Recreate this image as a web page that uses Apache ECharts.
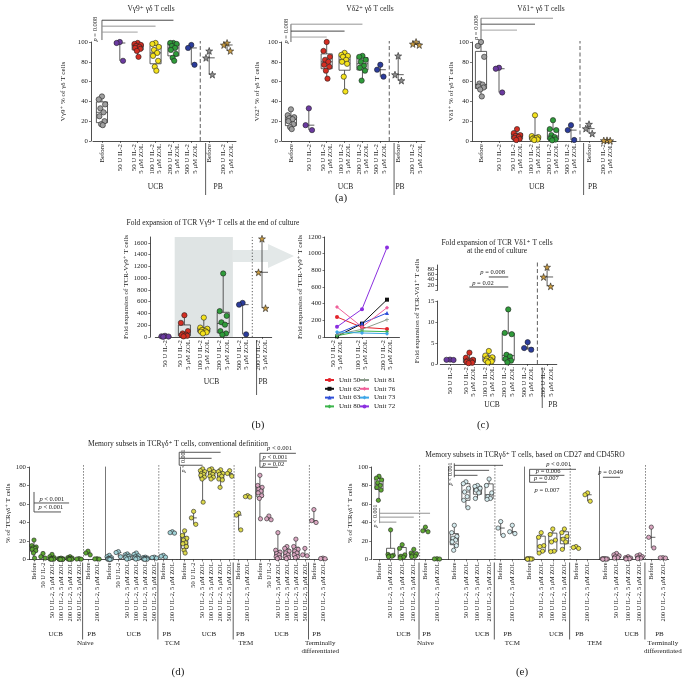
<!DOCTYPE html>
<html><head><meta charset="utf-8"><title>chart</title>
<script src="https://cdn.jsdelivr.net/npm/echarts@6/dist/echarts.min.js"></script>
<style>html,body{margin:0;padding:0;background:#fff;}#chart{width:683px;height:690px;}</style>
</head><body><div id="chart"></div>
<script>
// ================= DATA =================
// Panel (a)
const catsA = ['Before','50 U IL-2','50 U IL-2\n5 μM ZOL','100 U IL-2\n5 μM ZOL','200 U IL-2\n5 μM ZOL','500 U IL-2\n5 μM ZOL','Before','200 U IL-2\n5 μM ZOL'];
const vg9Pct = [[45,42,37,33,29,25,20,17,16],[100,99,81],[99,98,97,96,95,94,93,91,85],[99,98,95,92,89,86,81,75,71],[99,99,98,96,94,92,88,84,81],[97,94,77],[91,84,67],[99,97,91]];
const vd2Pct = [[32,26,24,23,22,20,17,14,12],[33,16,11],[100,91,85,82,80,77,75,71,63],[89,87,86,85,82,80,78,65,50],[86,85,82,80,76,74,71,61],[77,72,65],[86,67,61],[100,98,97]];
const vd1Pct = [[100,96,85,58,57,55,54,52,45],[74,73,49],[12,8,6,5,4,3,2,1],[26,5,4,3,3,2,1.5,1],[21,12,11,6,4,2.5,1.5,0.7],[16,11,1],[17,12.5,7.5],[0.7,0.5,0.3]];
// Panel (b)
const catsB = ['50 U IL-2','50 U IL-2\n5 μM ZOL','100 U IL-2\n5 μM ZOL','200 U IL-2\n5 μM ZOL','500 U IL-2\n5 μM ZOL','200 U IL-2\n5 μM ZOL'];
const vg9Fold = [[20,12,8,4],[370,240,100,60,40,30,20,10],[330,160,140,120,100,90,80,60],[1080,440,360,250,210,100,60,40],[580,550,45],[1670,1100,490]];
const unitCats = ['50 U IL-2\n5 μM ZOL','100 U IL-2\n5 μM ZOL','200 U IL-2\n5 μM ZOL'];
const unit50 = [240,116,96];
const unit62 = [8,160,448];
const unit63 = [40,165,288];
const unit80 = [16,72,64];
const unit81 = [32,92,208];
const unit76 = [360,120,352];
const unit73 = [60,48,40];
const unit72 = [122,334,1074];
// Panel (c)
const vd1Fold = [[1.05,1,0.95],[2.7,1.5,1,0.8,0.6,0.5,0.3,0.2],[3.1,2,1.6,1.3,1,0.8,0.6,0.4],[13,7.4,7.1,2.2,1.8,1.2,0.8,0.4],[5.2,3.8,3.4],[87,50,15]];
// Panel (d)
const catsD = ['Before','50 U IL-2','50 U IL-2, 5 μM ZOL','100 U IL-2, 5 μM ZOL','200 U IL-2, 5 μM ZOL','500 U IL-2, 5 μM ZOL','Before','200 U IL-2, 5 μM ZOL'];
const naiveConv = [[21,15,13.5,12.5,12,11,9.5,7,1.5],[6.5,3,1.5],[5.5,3,2,1,0.7,0.4,0.3,0.2],[1.5,1,0.7,0.5,0.3,0.2,0.1,0.1],[3,2,1.5,1,0.5,0.4,0.3,0.2],[1,0.5,0.3],[9,7,5],[0.8,0.6,0.4]];
const tcmConv = [[4.5,3,2,1,0.7,0.5,0.3,0.2,0.1],[8.5,7.5,3],[6,5,4,3.5,3,2,1,0.5],[7,5.5,4,3,2,1.5,1,0.5],[2.5,2,1.5,1,0.7,0.5,0.3,0.2],[2.5,2,1.5],[4.5,3.5,2.5],[30,29,28.5]];
const temConv = [[31,26,23,21,18,17,14,10,7],[52,45,38],[98,96,95,93,92,91,89,87,62],[98,97,95,93,92,90,89,87],[97,95,93,92,90,87,86,78],[96,93,90],[50,48,32],[69,68,67.5]];
const tdConv = [[91,80,78,76,74,72,69,66,44],[47,44,43],[29,10,8,6.5,5,3,2,1],[14,12,9,7,5,3,2,1],[22,14,11,9,7,5,3,2],[12,5,4],[54,42,40],[1.5,1,0.8]];
// Panel (e)
const catsE = ['Before','50 U IL-2, 5 μM ZOL','100 U IL-2, 5 μM ZOL','200 U IL-2, 5 μM ZOL','Before','200 U IL-2, 5 μM ZOL'];
const naiveCd = [[90,88,86,83,80,78,75,64],[32,5.5,4.5,4,3.5,3],[16,12,5,3.5,2.5,1.5],[11,7,6,5,3.5,3],[35,31,30],[0.8,0.6,0.5]];
const tcmCd = [[37,29,25,23,21,19,15,10],[84,82,77,73,68,64,56],[80,79,77,75,72,66],[87,80,72,68,66,65],[41,34,26],[37,30,28]];
const temCd = [[1,0.8,0.6,0.5,0.4,0.3],[29,24,15,14,9,7],[33,27,21,19,9,8.5],[33,29,25,22,19,11],[14,13,12],[72,70,63]];
const tdCd = [[1,0.8,0.6,0.5,0.4,0.3],[6.5,5,4,3,2,1.5],[3,2,1.5,1,0.8,0.5],[5,4,3,2,1.5,1],[35,24,12.5],[2,1.8,1.5]];

// ================= STYLE =================
const FONT = '"Liberation Serif","DejaVu Serif",serif';
const STAR = 'path://M0,-10L2.35,-3.24L9.51,-3.09L3.8,1.24L5.88,8.09L0,4L-5.88,8.09L-3.8,1.24L-9.51,-3.09L-2.35,-3.24Z';
const PLUS = 'path://M-1,-5L1,-5L1,-1L5,-1L5,1L1,1L1,5L-1,5L-1,1L-5,1L-5,-1L-1,-1Z';
const JIT = [0,-1,1,-0.5,0.5,-0.8,0.8,-0.25,0.25,-0.6,0.6];
const colA = ['#a0a0a0','#6b3aa0','#d42e22','#f4e21c','#2f9b3a','#2b3c9c','#8e8e8e','#c89a40'];
const starA = [false,false,false,false,false,false,true,true];
const colB = ['#6b3aa0','#d42e22','#f4e21c','#2f9b3a','#2b3c9c','#c89a40'];
const starB = [false,false,false,false,false,true];
const plainNum = v => String(v);

const grids=[], xAxes=[], yAxes=[], series=[];

function stats(v){
  const s=v.slice().sort((a,b)=>a-b), n=s.length;
  const med = n%2 ? s[(n-1)/2] : (s[n/2-1]+s[n/2])/2;
  if(n<=3) return [s[0],med,med,med,s[n-1]];
  const q=p=>{const h=(n+1)*p-1; const f=Math.floor(h); const lo=Math.max(0,Math.min(n-1,f)); const hi=Math.max(0,Math.min(n-1,f+1)); return s[lo]+(s[hi]-s[lo])*(h-f);};
  return [s[0],q(0.25),med,q(0.75),s[n-1]];
}
function boxRender(frac,color,lw){
  return function(params,api){
    const i=api.value(0), lo=api.value(1), q1=api.value(2), md=api.value(3), q3=api.value(4), hi=api.value(5);
    const w=api.size([1,0])[0]*frac;
    const x=api.coord([i,md])[0];
    const y=v=>api.coord([i,v])[1];
    const st={stroke:color,lineWidth:lw,fill:'none'};
    const ch=[];
    if(q3>q1){
      ch.push({type:'line',shape:{x1:x,y1:y(lo),x2:x,y2:y(q1)},style:st});
      ch.push({type:'line',shape:{x1:x,y1:y(q3),x2:x,y2:y(hi)},style:st});
      ch.push({type:'rect',shape:{x:x-w/2,y:y(q3),width:w,height:y(q1)-y(q3)},style:st});
    } else {
      ch.push({type:'line',shape:{x1:x,y1:y(lo),x2:x,y2:y(hi)},style:st});
    }
    ch.push({type:'line',shape:{x1:x-w/2,y1:y(md),x2:x+w/2,y2:y(md)},style:st});
    return {type:'group',children:ch};
  };
}
function pText(t,fs){
  if(t.indexOf('p ')===0) return {text:'{i|p}'+t.slice(1),rich:{i:{fontStyle:'italic',fontSize:fs,fontFamily:FONT,fill:'#222'}}};
  return {text:t};
}
function annotRender(a){
  return function(params,api){
    const bw=api.size([1,0])[0];
    const x0=api.coord([0,0])[0];
    const X=t=>x0+t*bw;
    const Y=v=>api.coord([0,v])[1];
    const base=Y(a.base||0);
    const ch=[];
    if(a.sep!=null) ch.push({type:'line',shape:{x1:X(a.sep),y1:base,x2:X(a.sep),y2:Y(a.sepTop)},style:{stroke:'#333',lineWidth:0.8,lineDash:a.dash}});
    if(a.below) ch.push({type:'line',shape:{x1:X(a.below[0]),y1:base+a.below[1],x2:X(a.below[0]),y2:base+a.below[2]},style:{stroke:'#333',lineWidth:0.8}});
    if(a.ext) ch.push({type:'line',shape:{x1:X(a.n-0.5),y1:base,x2:X(a.n-0.5)+a.ext,y2:base},style:{stroke:'#222',lineWidth:0.8}});
    (a.labels||[]).forEach(l=>ch.push({type:'text',x:X(l[0]),y:base+l[1],style:{text:l[2],fontSize:l[3]||7.5,fontFamily:FONT,fill:'#222',align:'center',verticalAlign:'middle'}}));
    (a.lines||[]).forEach(L=>ch.push({type:'line',shape:{x1:X(L[0]),y1:Y(L[1]),x2:X(L[2]),y2:Y(L[3])},style:{stroke:L[4]||'#555',lineWidth:0.9}}));
    (a.texts||[]).forEach(t=>{const fs=t.fs||6.5; ch.push({type:'text',x:X(t.x),y:Y(t.y),rotation:t.rot?Math.PI/2:0,style:Object.assign({fontSize:fs,fontFamily:FONT,fill:'#222',align:t.align||'center',verticalAlign:'middle'},pText(t.t,fs))});});
    return {type:'group',children:ch};
  };
}
function shadeRender(s){
  return function(params,api){
    const bw=api.size([1,0])[0], x0=api.coord([0,0])[0], X=t=>x0+t*bw;
    const yt=api.coord([0,s[3]])[1], yb=api.coord([0,s[2]])[1];
    return {type:'rect',shape:{x:X(s[0]),y:yt,width:X(s[1])-X(s[0]),height:yb-yt},style:{fill:'#dfe4e4'}};
  };
}
function boxGrid(o){
  const gi=grids.push(Object.assign({containLabel:false},o.grid))-1;
  const xi=xAxes.push({type:'category',gridIndex:gi,data:o.cats,boundaryGap:true,show:o.xShow!==false,
    axisLine:{show:true,lineStyle:{color:'#222',width:0.8}},
    axisTick:{show:true,alignWithLabel:true,length:2,lineStyle:{color:'#222',width:0.6}},
    axisLabel:{show:true,rotate:90,interval:0,fontSize:o.xfs,fontFamily:FONT,color:'#222',margin:3,lineHeight:o.xfs+0.6},
    splitLine:{show:false}})-1;
  const y=o.y;
  const ya={type:'value',gridIndex:gi,min:y.min,max:y.max,interval:y.interval,offset:y.offset||0,
    name:y.name||'',nameLocation:'middle',nameGap:y.gap||20,nameTextStyle:{fontSize:7,fontFamily:FONT,color:'#222'},
    axisLine:{show:true,lineStyle:{color:y.color||'#222',width:y.lw||0.8}},
    axisTick:{show:y.labels!==false,length:2,lineStyle:{color:'#222',width:0.6}},
    axisLabel:{show:y.labels!==false,fontSize:y.fs||6.8,fontFamily:FONT,color:'#222',margin:3,showMaxLabel:y.showMax!==false,formatter:y.fmt||plainNum},
    splitLine:{show:false}};
  const yi=yAxes.push(ya)-1;
  const boxData=[], pts=[];
  o.values.forEach((v,i)=>{
    if(!v.length) return;
    boxData.push([i].concat(stats(v)));
    const star=o.stars&&o.stars[i];
    const col=Array.isArray(o.colors)?o.colors[i]:o.colors;
    v.forEach((val,k)=>pts.push({value:[i,val],symbol:star?STAR:'circle',symbolSize:star?o.pt*1.3:o.pt,symbolOffset:[JIT[k%JIT.length]*o.jit,0],itemStyle:{color:col}}));
  });
  if(o.shade) series.push({type:'custom',xAxisIndex:xi,yAxisIndex:yi,clip:false,silent:true,z:1,data:[[0,0]],encode:{x:0,y:1},renderItem:shadeRender(o.shade)});
  series.push({type:'custom',xAxisIndex:xi,yAxisIndex:yi,clip:false,silent:true,z:3,data:boxData,encode:{x:0,y:3},renderItem:boxRender(o.frac,o.boxColor||'#333',0.8)});
  series.push({type:'scatter',xAxisIndex:xi,yAxisIndex:yi,silent:true,z:4,data:pts,itemStyle:{borderColor:'#222',borderWidth:0.6,opacity:1}});
  if(o.annot) series.push({type:'custom',xAxisIndex:xi,yAxisIndex:yi,clip:false,silent:true,z:5,data:[[0,0]],encode:{x:0,y:1},renderItem:annotRender(o.annot)});
}

// ---------- (a) ----------
boxGrid({grid:{left:93,top:42,width:143,height:99},cats:catsA,values:vg9Pct,colors:colA,stars:starA,xfs:6.8,pt:5.3,jit:3.2,frac:0.62,
  y:{min:0,max:100,interval:20,offset:2,name:'Vγ9⁺ % of γδ T cells',gap:24},
  annot:{sep:5.5,sepTop:101,dash:[4,2.5],below:[5.8,2,54],labels:[[3.0,46,'UCB'],[6.5,46,'PB']],
    lines:[[0,102,0,122,'#555'],[0,122,4,122,'#333'],[0,116,3,116,'#888'],[0,110,2,110,'#999']],
    texts:[{x:-0.35,y:113,t:'p = 0.008',rot:true}]}});
boxGrid({grid:{left:282,top:42,width:143,height:99},cats:catsA,values:vd2Pct,colors:colA,stars:starA,xfs:6.8,pt:5.3,jit:3.2,frac:0.62,
  y:{min:0,max:100,interval:20,offset:1,name:'Vδ2⁺ % of γδ T cells',gap:20},
  annot:{sep:5.5,sepTop:101,dash:[4,2.5],below:[5.77,2,54],labels:[[3.05,46,'UCB'],[6.1,46,'PB']],
    lines:[[0,100,0,118,'#555'],[0,118,4,118,'#888'],[0,111,3,111,'#333'],[0,105,2,105,'#999']],
    texts:[{x:-0.25,y:111,t:'p = 0.008',rot:true}]}});
boxGrid({grid:{left:472,top:42,width:144,height:99},cats:catsA,values:vd1Pct,colors:colA,stars:starA,xfs:6.8,pt:5.3,jit:3.2,frac:0.62,
  y:{min:0,max:100,interval:20,offset:0,name:'Vδ1⁺ % of γδ T cells',gap:17},
  annot:{sep:5.5,sepTop:101,dash:[4,2.5],below:[5.7,2,54],labels:[[3.1,46,'UCB'],[6.2,46,'PB']],
    lines:[[0,102,0,124,'#555'],[0,124,4,124,'#888'],[0,118,3,118,'#444'],[0,112,2,112,'#999']],
    texts:[{x:-0.25,y:114.5,t:'p = 0.008',rot:true}]}});

// ---------- (b) ----------
boxGrid({grid:{left:155.3,top:237,width:116.4,height:100},cats:catsB,values:vg9Fold,colors:colB,stars:starB,xfs:6.8,pt:5.3,jit:3.5,frac:0.62,
  y:{min:0,max:1700,interval:200,offset:5,name:'Fold expansion of TCR-Vγ9⁺ T cells',gap:19,showMax:false},
  shade:[0.5,3.5,0,1700],
  annot:{sep:4.5,sepTop:1700,dash:[1.2,2],below:[4.72,3,58],labels:[[2.4,45,'UCB'],[5.05,45,'PB']]}});

const lgi=grids.push({left:324.5,top:237,width:75,height:100})-1;
xAxes.push({type:'category',gridIndex:lgi,data:unitCats,boundaryGap:true,
  axisLine:{show:true,lineStyle:{color:'#222',width:0.8}},
  axisTick:{show:true,alignWithLabel:true,length:2,lineStyle:{color:'#222',width:0.6}},
  axisLabel:{rotate:90,interval:0,fontSize:6.8,fontFamily:FONT,color:'#222',margin:3,lineHeight:7.4},splitLine:{show:false}});
yAxes.push({type:'value',gridIndex:lgi,min:0,max:1200,interval:200,name:'Fold expansion of TCR-Vγ9⁺ T cells',nameLocation:'middle',nameGap:20,
  nameTextStyle:{fontSize:7,fontFamily:FONT,color:'#222'},
  axisLine:{show:true,lineStyle:{color:'#222',width:0.8}},axisTick:{show:true,length:2,lineStyle:{color:'#222',width:0.6}},
  axisLabel:{fontSize:6.8,fontFamily:FONT,color:'#222',margin:3,formatter:plainNum},splitLine:{show:false}});
const units=[['Unit 50',unit50,'#e3232b','circle'],['Unit 62',unit62,'#111111','rect'],['Unit 63',unit63,'#2f4fd8','triangle'],['Unit 80',unit80,'#3cb44b','diamond'],
  ['Unit 81',unit81,'#8c9c8c',PLUS],['Unit 76',unit76,'#f0609a','diamond'],['Unit 73',unit73,'#3fa7e8','diamond'],['Unit 72',unit72,'#8b2fe0','circle']];
units.forEach(u=>series.push({type:'line',name:u[0],xAxisIndex:xAxes.length-1,yAxisIndex:yAxes.length-1,data:u[1],symbol:u[3],symbolSize:4,
  itemStyle:{color:u[2]},lineStyle:{color:u[2],width:1},z:3,silent:true}));

// ---------- (c) ----------
const lowerC=vd1Fold.map((v,i)=>i<5?v:[]);
const upperC=vd1Fold.map((v,i)=>i===5?v:[]);
boxGrid({grid:{left:440.3,top:301,width:116.5,height:63},cats:catsB,values:lowerC,colors:colB,stars:starB,xfs:6.8,pt:5.3,jit:3.5,frac:0.62,
  y:{min:0,max:15,interval:5,offset:3},
  annot:{sep:4.5,sepTop:24.3,dash:[4,2.5],below:[4.75,4,44],labels:[[2.16,41,'UCB'],[5.3,41,'PB']]}});
boxGrid({grid:{left:440.3,top:265,width:116.5,height:25.3},cats:catsB,values:upperC,colors:colB,stars:starB,xShow:false,xfs:6.8,pt:5.3,jit:3.5,frac:0.62,
  y:{min:0,max:95,interval:20,offset:3,showMax:false,fmt:v=>(v>=20&&v<=80)?String(v):''},
  annot:{lines:[[2,50,3,50,'#333'],[1,12.4,3,12.4,'#333']],texts:[{x:2.2,y:69,t:'p = 0.008'},{x:1.7,y:27,t:'p = 0.02'}]}});

// ---------- (d) ----------
const dGroups=[naiveConv,tcmConv,temConv,tdConv];
const dCols=['#5da632','#9fd1d6','#dcd84c','#d9a6c0'];
const dLefts=[29.5,104.8,180.1,255.4];
const dAnnots=[
  {sep:5.5,sepTop:102,dash:[1.2,1.8],below:[5.4,3,80],ext:3.3,n:8,labels:[[2.4,75,'UCB',7],[6.4,75,'PB',7],[5.7,84,'Naive',7]],
    lines:[[0,51.4,0,73,'#444'],[0,61.1,3.9,61.1,'#444'],[0,51.4,3,51.4,'#444']],
    texts:[{x:0.6,y:65.4,t:'p < 0.001',align:'left'},{x:0.5,y:56.8,t:'p < 0.001',align:'left'}]},
  {sep:5.5,sepTop:102,dash:[1.2,1.8],below:[5.4,3,80],ext:3.3,n:8,labels:[[2.7,75,'UCB',7],[6.4,75,'PB',7],[7,84,'TCM',7]]},
  {sep:5.5,sepTop:102,dash:[1.2,1.8],below:[5.4,3,80],ext:3.3,n:8,labels:[[2.7,75,'UCB',7],[6.2,75,'PB',7],[6.8,84,'TEM',7]],
    lines:[[-0.6,101.9,-0.6,115.9,'#444'],[-0.6,115.9,4,115.9,'#444'],[-0.6,109.4,3,109.4,'#444'],[-0.6,101.9,2,101.9,'#444']],
    texts:[{x:-0.15,y:106.5,t:'p < 0.001',rot:true,fs:6}]},
  {sep:5.5,sepTop:102,dash:[1.2,1.8],below:[5.4,3,80],labels:[[2.4,75,'UCB',7],[6.3,75,'PB',7],[6.7,84,'Terminally',7],[6.7,92,'differentiated',7]],
    lines:[[0,99.7,0,114.8,'#444'],[0,114.8,4,114.8,'#444'],[0,106.5,3,106.5,'#444'],[0,99.7,2,99.7,'#444']],
    texts:[{x:0.8,y:120,t:'p < 0.001',align:'left'},{x:0.3,y:111,t:'p < 0.001',align:'left'},{x:0.3,y:103,t:'p = 0.02',align:'left'}]}
];
dGroups.forEach((g,k)=>boxGrid({grid:{left:dLefts[k],top:467,width:72,height:92.5},cats:catsD,values:g,colors:dCols[k],xfs:6.3,pt:4.3,jit:2.2,frac:0.7,boxColor:'#3a3a3a',
  y:k===0?{min:0,max:100,interval:20,offset:0.5,name:'% of TCRγδ⁺ T cells',gap:14}:{min:0,max:100,interval:20,labels:false,color:'#777',lw:1},
  annot:dAnnots[k]}));

// ---------- (e) ----------
const eGroups=[naiveCd,tcmCd,temCd,tdCd];
const eCols=['#5da632','#d6ecef','#e6df45','#d9a6c0'];
const eLefts=[373.2,448.5,523.8,599.1];
const eAnnots=[
  {sep:3.5,sepTop:102,dash:[1.2,1.8],below:[3.45,3,80],ext:5.7,n:6,labels:[[2.1,75,'UCB',7],[4.1,75,'PB',7],[4.0,84,'Naive',7]],
    lines:[[0.05,39.3,0.05,55.5,'#888'],[0.05,50,4.4,50,'#888'],[0.05,45.8,3,45.8,'#888'],[0.05,40.4,1.5,40.4,'#888']],
    texts:[{x:-0.3,y:47,t:'p < 0.001',rot:true,fs:6}]},
  {sep:3.5,sepTop:102,dash:[1.2,1.8],below:[3.45,3,80],ext:5.7,n:6,labels:[[2.4,75,'UCB',7],[4.6,75,'PB',7],[5,84,'TCM',7]],
    lines:[[0,88.9,0,104,'#444'],[0,101.8,4.2,101.8,'#444'],[0,96.4,3,96.4,'#444'],[0,91,2,91,'#444']],
    texts:[{x:-0.35,y:92.5,t:'p < 0.001',rot:true,fs:6}]},
  {sep:3.5,sepTop:102,dash:[1.2,1.8],below:[3.45,3,80],ext:5.7,n:6,labels:[[2.3,75,'UCB',7],[4.3,75,'PB',7],[5.6,84,'TEM',7]],
    lines:[[0,83.5,0,97.5,'#444'],[0,97.5,4,97.5,'#444'],[0,91,3,91,'#444'],[0,83.5,1.5,83.5,'#444']],
    texts:[{x:2.5,y:103,t:'p < 0.001'},{x:1.6,y:95,t:'p = 0.006'},{x:1.45,y:87.5,t:'p = 0.007'},{x:1.5,y:75,t:'p = 0.007'}]},
  {sep:3.5,sepTop:102,dash:[1.2,1.8],below:[3.45,3,80],labels:[[2.3,75,'UCB',7],[4.7,75,'PB',7],[5,84,'Terminally',7],[5,92,'differentiated',7]],
    lines:[[-0.17,88.9,1.3,88.9,'#444']],texts:[{x:0.5,y:94.3,t:'p = 0.049'}]}
];
eGroups.forEach((g,k)=>boxGrid({grid:{left:eLefts[k],top:467,width:69.6,height:92.5},cats:catsE,values:g,colors:eCols[k],xfs:6.3,pt:4.3,jit:2.6,frac:0.7,boxColor:'#3a3a3a',
  y:k===0?{min:0,max:100,interval:20,offset:2,name:'% of TCRγδ⁺ T cells',gap:14}:{min:0,max:100,interval:20,labels:false,color:'#777',lw:1},
  annot:eAnnots[k]}));

// ---------- text / decoration ----------
function T(x,y,text,fs,extra){return Object.assign({type:'text',x:x,y:y,z:10,style:{text:text,fontSize:fs,fontFamily:FONT,fill:'#222',align:'center',verticalAlign:'middle',textAlign:'center',textVerticalAlign:'middle'}},extra||{});}
const graphics=[
  {type:'polygon',z:0,shape:{points:[[233,250],[268,250],[268,244],[294,256],[268,268],[268,262],[233,262]]},style:{fill:'#e3e8e8'}},
  T(151,9,'Vγ9⁺ γδ T cells',7.5), T(370,9,'Vδ2⁺ γδ T cells',7.5), T(541,9,'Vδ1⁺ γδ T cells',7.5),
  T(341,198,'(a)',11),
  T(213,223,'Fold expansion of TCR Vγ9⁺ T cells at the end of culture',7.5),
  T(497,243,'Fold expansion of TCR Vδ1⁺ T cells',7.5), T(497,251.5,'at the end of culture',7.5),
  T(417,311,'Fold expansion of TCR-Vδ1⁺ T cells',7,{rotation:Math.PI/2}),
  T(258,425,'(b)',11), T(483,425,'(c)',11),
  T(178,444,'Memory subsets in TCRγδ⁺ T cells, conventional definition',7.5),
  T(525,455,'Memory subsets in TCRγδ⁺ T cells, based on CD27 and CD45RO',7.5),
  T(178,672,'(d)',11), T(522,672,'(e)',11)
];

const legStyle={orient:'vertical',itemWidth:9,itemHeight:5,itemGap:0.8,padding:0,selectedMode:false,textStyle:{fontSize:7,fontFamily:FONT,color:'#222',lineHeight:8}};
const chart=echarts.init(document.getElementById('chart'),null,{renderer:'canvas'});
chart.setOption({
  animation:false,backgroundColor:'#fff',textStyle:{fontFamily:FONT},
  grid:grids,xAxis:xAxes,yAxis:yAxes,series:series,
  legend:[Object.assign({data:['Unit 50','Unit 62','Unit 63','Unit 80'],left:324,top:376},legStyle),
          Object.assign({data:['Unit 81','Unit 76','Unit 73','Unit 72'],left:359,top:376},legStyle)],
  graphic:graphics
});
</script></body></html>
